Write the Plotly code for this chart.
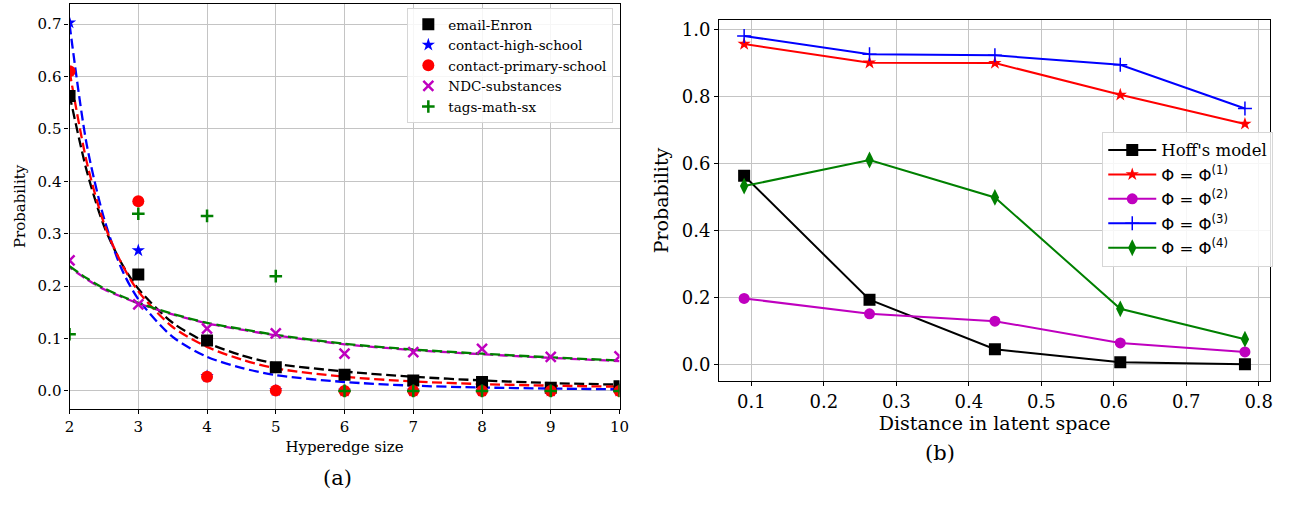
import plotly.graph_objects as go

# ---------------- (a) hyperedge size distributions ----------------
sizes = [2, 3, 4, 5, 6, 7, 8, 9, 10]
enron = [0.563, 0.222, 0.096, 0.045, 0.031, 0.020, 0.017, 0.006, 0.009]
high_school = [0.703, 0.268, 0.028, 0.001, 0.0, 0.0, 0.0, 0.0, 0.0]
primary_school = [0.610, 0.362, 0.027, 0.0007, 0.0, 0.0, 0.0, 0.0, 0.0]
ndc = [0.249, 0.165, 0.119, 0.110, 0.071, 0.074, 0.080, 0.065, 0.066]
tags = [0.108, 0.338, 0.334, 0.219, 0.0, 0.0, 0.0, 0.0, 0.0]

# fitted curves, sampled along the size axis
fit_x = [2, 2.25, 2.5, 2.75, 3, 3.5, 4, 4.5, 5, 6, 7, 8, 9, 10]
enron_fit = [0.565, 0.42, 0.315, 0.245, 0.195, 0.13, 0.092, 0.068, 0.052, 0.037, 0.027, 0.020, 0.015, 0.012]
high_school_fit = [0.70, 0.47, 0.33, 0.235, 0.175, 0.103, 0.065, 0.044, 0.030, 0.017, 0.010, 0.0065, 0.0045, 0.003]
primary_school_fit = [0.61, 0.437, 0.32, 0.245, 0.19, 0.122, 0.084, 0.060, 0.043, 0.027, 0.018, 0.013, 0.010, 0.008]
ndc_fit = [0.236, 0.213, 0.194, 0.180, 0.167, 0.146, 0.129, 0.117, 0.106, 0.089, 0.078, 0.070, 0.063, 0.057]
tags_fit = [0.238, 0.215, 0.196, 0.181, 0.168, 0.147, 0.130, 0.118, 0.107, 0.090, 0.079, 0.071, 0.064, 0.058]

# ---------------- (b) probability vs latent distance ----------------
distance = [0.090, 0.263, 0.436, 0.609, 0.781]
hoff = [0.564, 0.193, 0.045, 0.006, 0.000]
phi1 = [0.958, 0.902, 0.901, 0.806, 0.719]
phi2 = [0.197, 0.151, 0.129, 0.064, 0.037]
phi3 = [0.982, 0.927, 0.924, 0.896, 0.765]
phi4 = [0.533, 0.611, 0.499, 0.166, 0.075]

SERIF = "DejaVu Serif"
BLACK, BLUE, RED, MAGENTA, GREEN = "#000000", "#0000ff", "#ff0000", "#bf00bf", "#008000"

fig = go.Figure()

# dashed fits first, markers on top
DASH = "10px,4.5px"
fits = [
    (enron_fit, BLACK, DASH),
    (high_school_fit, BLUE, DASH),
    (primary_school_fit, RED, DASH),
    (ndc_fit, MAGENTA, "3px,4.5px,7px,0px"),
    (tags_fit, GREEN, DASH),
]
for ys, col, dash in fits:
    fig.add_trace(go.Scatter(
        x=fit_x, y=ys, mode="lines", xaxis="x", yaxis="y",
        line=dict(color=col, width=2.3, dash=dash, shape="spline", smoothing=0.8),
        showlegend=False, hoverinfo="skip"))

scatter_sets = [
    ("email-Enron", enron, dict(symbol="square", size=12, color=BLACK)),
    ("contact-high-school", high_school, dict(symbol="star", size=10, color=BLUE)),
    ("contact-primary-school", primary_school, dict(symbol="circle", size=12, color=RED)),
    ("NDC-substances", ndc, dict(symbol="x-thin", size=10, color=MAGENTA,
                                 line=dict(color=MAGENTA, width=2.5))),
    ("tags-math-sx", tags, dict(symbol="cross-thin", size=9, color=GREEN,
                               line=dict(color=GREEN, width=2.5))),
]
for name, ys, mk in scatter_sets:
    fig.add_trace(go.Scatter(
        x=sizes, y=ys, mode="markers", name=name, xaxis="x", yaxis="y",
        marker=mk, legend="legend"))

math_font = "font-family:'DejaVu Sans'"
line_sets = [
    ("Hoff's model", hoff, BLACK, dict(symbol="square", size=12)),
    (f"<span style=\"{math_font}\">Φ = Φ<sup>(1)</sup></span>", phi1, RED, dict(symbol="star", size=10)),
    (f"<span style=\"{math_font}\">Φ = Φ<sup>(2)</sup></span>", phi2, MAGENTA, dict(symbol="circle", size=11)),
    (f"<span style=\"{math_font}\">Φ = Φ<sup>(3)</sup></span>", phi3, BLUE,
     dict(symbol="cross-thin", size=10, line=dict(color=BLUE, width=1.5))),
    (f"<span style=\"{math_font}\">Φ = Φ<sup>(4)</sup></span>", phi4, GREEN, dict(symbol="diamond-tall", size=12)),
]
for name, ys, col, mk in line_sets:
    mk = dict(mk, color=col)
    fig.add_trace(go.Scatter(
        x=distance, y=ys, mode="lines+markers", name=name, xaxis="x2", yaxis="y2",
        line=dict(color=col, width=2), marker=mk, legend="legend2"))

GRID = "#c4c4c4"
common = dict(showgrid=True, gridcolor=GRID, gridwidth=1, zeroline=False,
              showline=True, linecolor="black", linewidth=1.2, mirror=True,
              ticks="outside", ticklen=4, tickwidth=1, tickcolor="black")

fig.update_layout(
    width=1306, height=512, margin=dict(l=0, r=0, t=0, b=0),
    paper_bgcolor="white", plot_bgcolor="white",
    font=dict(family=SERIF, color="black"),
    xaxis=dict(common, domain=[0.0500, 0.4760], range=[2, 10], dtick=1, anchor="y",
               tickfont=dict(size=15),
               title=dict(text="Hyperedge size", font=dict(size=15), standoff=6)),
    yaxis=dict(common, domain=[0.2012, 0.9947], range=[-0.0349, 0.739], dtick=0.1,
               tickformat=".1f", anchor="x", tickfont=dict(size=15),
               title=dict(text="Probability", font=dict(size=15), standoff=8)),
    xaxis2=dict(common, domain=[0.5531, 0.9801], range=[0.0554, 0.816], dtick=0.1,
                tick0=0, tickformat=".1f", anchor="y2", tickfont=dict(size=18),
                title=dict(text="Distance in latent space", font=dict(size=19), standoff=4)),
    yaxis2=dict(common, domain=[0.2564, 0.9629], range=[-0.0499, 1.0299], dtick=0.2,
                tick0=0, tickformat=".1f", anchor="x2", tickfont=dict(size=18),
                title=dict(text="Probability", font=dict(size=19), standoff=8)),
    legend=dict(x=407 / 1306, y=1 - 7 / 512, xanchor="left", yanchor="top",
                bgcolor="rgba(255,255,255,0.85)", bordercolor="#d6d6d6", borderwidth=1,
                font=dict(size=13.5, family=SERIF), tracegroupgap=0, itemwidth=30),
    legend2=dict(x=1110 / 1306, y=1 - 131 / 512, xanchor="left", yanchor="top",
                 bgcolor="rgba(255,255,255,0.85)", bordercolor="#d6d6d6", borderwidth=1,
                 font=dict(size=16.5, family=SERIF), tracegroupgap=0, itemwidth=48),
    annotations=[
        dict(text="(a)", x=320 / 1306, y=1 - 492 / 512, xref="paper", yref="paper",
             showarrow=False, font=dict(size=21, family=SERIF)),
        dict(text="(b)", x=963 / 1306, y=1 - 467 / 512, xref="paper", yref="paper",
             showarrow=False, font=dict(size=21, family=SERIF)),
    ],
)

fig.write_html("out.html")
